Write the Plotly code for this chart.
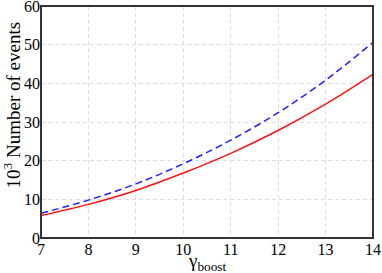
import plotly.graph_objs as go

gamma = [7, 8, 9, 10, 11, 12, 13, 14]
events_red = [5.8, 8.7, 12.3, 16.8, 21.9, 27.8, 34.6, 42.3]
events_blue = [6.4, 9.8, 14.0, 19.2, 25.3, 32.4, 40.8, 50.6]

tick_font = dict(family='Liberation Serif', size=16, color='black')
title_font = dict(family='Liberation Serif', size=19, color='black')

trace_blue = go.Scatter(x=gamma, y=events_blue, mode='lines',
                        line=dict(color='#2020ff', width=1.5, dash='7px,4px', shape='spline'))
trace_red = go.Scatter(x=gamma, y=events_red, mode='lines',
                       line=dict(color='#ff1010', width=1.5, shape='spline'))

axis = dict(showline=False, showgrid=True, gridcolor='#dddddd', griddash='4px,3px', gridwidth=1,
            zeroline=False, ticks='', ticklen=0, tickfont=tick_font,
            automargin=False, ticklabeloverflow='allow')

layout = go.Layout(
    width=382, height=273,
    margin=dict(l=41, r=9, t=6, b=35),
    paper_bgcolor='white', plot_bgcolor='white',
    showlegend=False,
    font=tick_font,
    xaxis=dict(axis, range=[7, 14], dtick=1),
    yaxis=dict(axis, range=[0, 60], dtick=10),
    # frame round the plot area
    shapes=[dict(type='rect', xref='paper', yref='paper', x0=0, x1=1, y0=0, y1=1,
                 line=dict(color='#333333', width=2), layer='above')],
    annotations=[
        dict(text='γ<sub>boost</sub>', xref='paper', yref='paper', x=0.5, y=-0.045,
             yanchor='top', showarrow=False, font=title_font),
        dict(text='10<sup>3</sup> Number of events', xref='paper', yref='paper',
             x=-0.087, y=0.572, textangle=-90, xanchor='center', yanchor='middle',
             showarrow=False, font=title_font),
    ],
)

fig = go.Figure(data=[trace_blue, trace_red], layout=layout)
# drop the default 8px body margin so the figure fills the window
fig.write_html("out.html", config={'displayModeBar': False},
               post_script="document.body.style.margin='0';")
